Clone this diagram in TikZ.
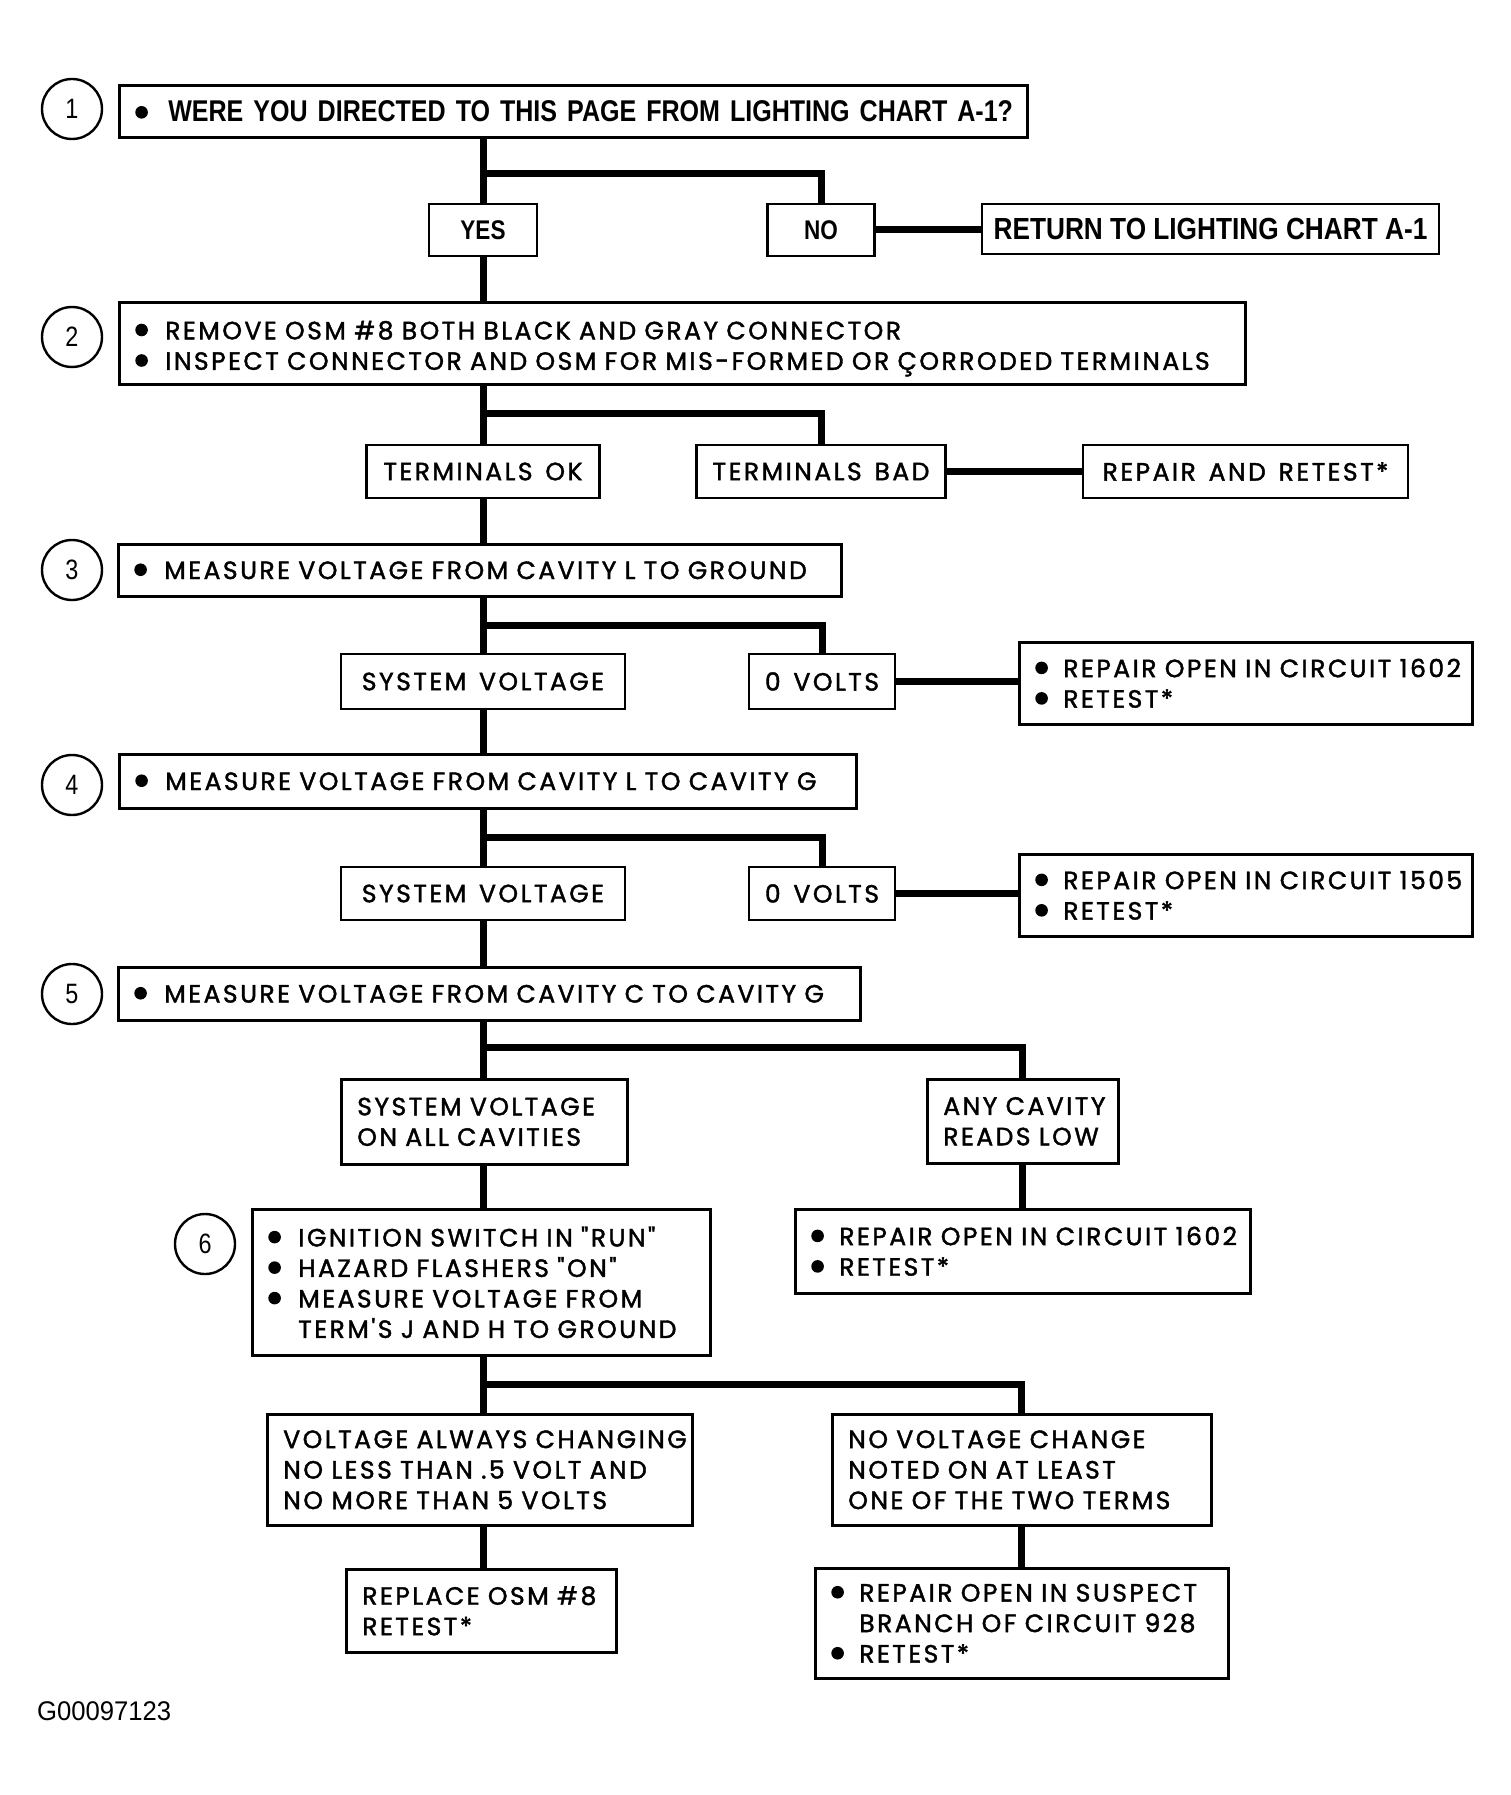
\documentclass[tikz,border=0pt]{standalone}
\usepackage{fontspec}
\setmainfont{Poppins}
\newfontfamily\hel[FakeStretch=0.835]{Liberation Sans}
\newfontfamily\heln[FakeStretch=0.95]{Liberation Sans}
\newfontfamily\rnd[LetterSpace=10,WordSpace=1.4,FakeBold=1.6]{Poppins}
\newcommand\rf{\rnd\fontsize{25}{30.5}\selectfont}
\newcommand\hb{\hel\bfseries\fontsize{30}{36}\selectfont}
\newcommand\hrt{\hel\bfseries\fontsize{30.5}{36}\selectfont\addfontfeature{FakeStretch=0.86}}
\newcommand\bul[1][30pt]{\makebox[#1][l]{\raisebox{3pt}{\tikz\fill (0,0) circle (6.3pt);}}}
\tikzset{
  conn/.style={line width=7pt},
  bx/.style={draw, line width=2.6pt, rectangle, inner xsep=16pt, inner ysep=0pt, font=\rf},
  bxl/.style={bx, anchor=north west, align=left},
  num/.style={draw, circle, line width=2.4pt, minimum size=60pt, inner sep=0pt, font=\hel\fontsize{28}{28}\selectfont},
  yn/.style={bx, font=\hel\bfseries\fontsize{27}{27}\selectfont, minimum height=52pt},
}
\begin{document}
\begin{tikzpicture}[x=1pt,y=-1pt]
\useasboundingbox[fill=white] (0,0) rectangle (1511,1795);
% step 1
\node[num] (c1) at (72,109) {1};
\node[bxl, font=\hb, minimum width=908pt, minimum height=52pt, text width=876pt] (b1) at (118,84) {\bul[33pt]\mbox{WERE YOU DIRECTED TO THIS PAGE FROM LIGHTING CHART A-1?}};
\node[yn, minimum width=108pt] (yes) at (483,230) {YES};
\node[yn, minimum width=107pt] (no) at (821,230) {NO};
\node[bx, font=\hrt, inner xsep=6pt, minimum width=457pt, minimum height=50pt] (ret) at (1210.5,229) {RETURN TO LIGHTING CHART A-1};
\coordinate (j1) at (483,174);
\draw[conn] (b1.south -| yes.north) -- (yes.north);
\draw[conn] (j1) -| (no.north);
\draw[conn] (no.east) -- (no.east -| ret.west);
\draw[conn] (yes.south) -- (yes.south |- 0,301);
% step 2
\node[num] (c2) at (72,337) {2};
\node[bxl, minimum width=1126pt, minimum height=82pt, text width=1094pt] (b2) at (118,301) {\rule{0pt}{29pt}\bul\mbox{REMOVE OSM \#8 BOTH BLACK AND GRAY CONNECTOR}\\\bul\mbox{INSPECT CONNECTOR AND OSM FOR MIS-FORMED OR ÇORRODED TERMINALS}};
\node[bx, minimum width=233pt, minimum height=53pt] (tok) at (483,471.5) {TERMINALS OK};
\node[bx, minimum width=245pt, minimum height=53pt] (tbad) at (821,471.5) {TERMINALS BAD};
\node[bx, minimum width=325pt, minimum height=53pt] (rr) at (1245.5,471.5) {REPAIR AND RETEST*};
\coordinate (j2) at (483,413);
\draw[conn] (b2.south -| tok.north) -- (tok.north);
\draw[conn] (j2) -| (tbad.north);
\draw[conn] (tbad.east) -- (tbad.east -| rr.west);
% step 3
\node[num] (c3) at (72,570) {3};
\node[bxl, minimum width=723pt, minimum height=52pt, text width=691pt] (b3) at (117,543) {\bul\mbox{MEASURE VOLTAGE FROM CAVITY L TO GROUND}};
\draw[conn] (tok.south) -- (tok.south |- b3.north);
\node[bx, minimum width=284pt, minimum height=55pt] (sv1) at (483,681.5) {SYSTEM VOLTAGE};
\node[bx, minimum width=146pt, minimum height=55pt] (zv1) at (822,681.5) {0 VOLTS};
\node[bxl, minimum width=453pt, minimum height=82pt, text width=421pt] (rp1) at (1018,641) {\bul[28pt]\mbox{REPAIR OPEN IN CIRCUIT 1602}\\\bul[28pt]RETEST*};
\coordinate (j3) at (483,625);
\draw[conn] (b3.south -| sv1.north) -- (sv1.north);
\draw[conn] (j3) -| (zv1.north);
\draw[conn] (zv1.east) -- (zv1.east -| rp1.west);
% step 4
\node[num] (c4) at (72,785) {4};
\node[bxl, minimum width=737pt, minimum height=54pt, text width=705pt] (b4) at (118,753) {\bul\mbox{MEASURE VOLTAGE FROM CAVITY L TO CAVITY G}};
\draw[conn] (sv1.south) -- (sv1.south |- b4.north);
\node[bx, minimum width=284pt, minimum height=53pt] (sv2) at (483,893.5) {SYSTEM VOLTAGE};
\node[bx, minimum width=146pt, minimum height=53pt] (zv2) at (822,893.5) {0 VOLTS};
\node[bxl, minimum width=453pt, minimum height=82pt, text width=421pt] (rp2) at (1018,853) {\bul[28pt]\mbox{REPAIR OPEN IN CIRCUIT 1505}\\\bul[28pt]RETEST*};
\coordinate (j4) at (483,837);
\draw[conn] (b4.south -| sv2.north) -- (sv2.north);
\draw[conn] (j4) -| (zv2.north);
\draw[conn] (zv2.east) -- (zv2.east -| rp2.west);
% step 5
\node[num] (c5) at (72,994) {5};
\node[bxl, minimum width=742pt, minimum height=53pt, text width=710pt] (b5) at (117,966) {\bul\mbox{MEASURE VOLTAGE FROM CAVITY C TO CAVITY G}};
\draw[conn] (sv2.south) -- (sv2.south |- b5.north);
\node[bxl, minimum width=286pt, minimum height=85pt, text width=254pt] (sva) at (340,1078) {\mbox{SYSTEM VOLTAGE}\\\mbox{ON ALL CAVITIES}};
\node[bxl, minimum width=191pt, minimum height=84pt, text width=159pt] (any) at (926,1078) {\mbox{ANY CAVITY}\\\mbox{READS LOW}};
\coordinate (j5) at (483,1047);
\draw[conn] (b5.south -| j5) -- (sva.north -| j5);
\draw[conn] (j5) -| (any.north);
\node[bxl, minimum width=455pt, minimum height=84pt, text width=423pt] (rp3) at (794,1208) {\bul[28pt]\mbox{REPAIR OPEN IN CIRCUIT 1602}\\\bul[28pt]RETEST*};
\draw[conn] (any.south) -- (any.south |- rp3.north);
% step 6
\node[num] (c6) at (205,1244) {6};
\node[bxl, minimum width=458pt, minimum height=146pt, text width=426pt] (b6) at (251,1208) {\bul\mbox{IGNITION SWITCH IN "RUN"}\\\bul\mbox{HAZARD FLASHERS "ON"}\\\bul\mbox{MEASURE VOLTAGE FROM}\\\hspace*{30pt}\mbox{TERM'S J AND H TO GROUND}};
\draw[conn] (sva.south -| j5) -- (b6.north -| j5);
\node[bxl, minimum width=425pt, minimum height=111pt, text width=393pt] (va) at (266,1413) {\mbox{VOLTAGE ALWAYS CHANGING}\\\mbox{NO LESS THAN .5 VOLT AND}\\\mbox{NO MORE THAN 5 VOLTS}};
\node[bxl, minimum width=379pt, minimum height=111pt, text width=347pt] (nvc) at (831,1413) {\mbox{NO VOLTAGE CHANGE}\\\mbox{NOTED ON AT LEAST}\\\mbox{ONE OF THE TWO TERMS}};
\coordinate (j6) at (483,1384);
\draw[conn] (b6.south -| j6) -- (va.north -| j6);
\draw[conn] (j6) -| (nvc.north);
\node[bxl, minimum width=270pt, minimum height=83pt, text width=238pt] (rep) at (345,1568) {\mbox{REPLACE OSM \#8}\\RETEST*};
\node[bxl, minimum width=413pt, minimum height=110pt, text width=381pt] (rs) at (814,1567) {\bul[28pt]\mbox{REPAIR OPEN IN SUSPECT}\\\hspace*{28pt}\mbox{BRANCH OF CIRCUIT 928}\\\bul[28pt]RETEST*};
\draw[conn] (va.south -| j6) -- (rep.north -| j6);
\draw[conn] (nvc.south) -- (nvc.south |- rs.north);
\node[anchor=west, inner sep=0pt, font=\heln\fontsize{27}{27}\selectfont] (gid) at (37,1711) {G00097123};
\end{tikzpicture}
\end{document}
